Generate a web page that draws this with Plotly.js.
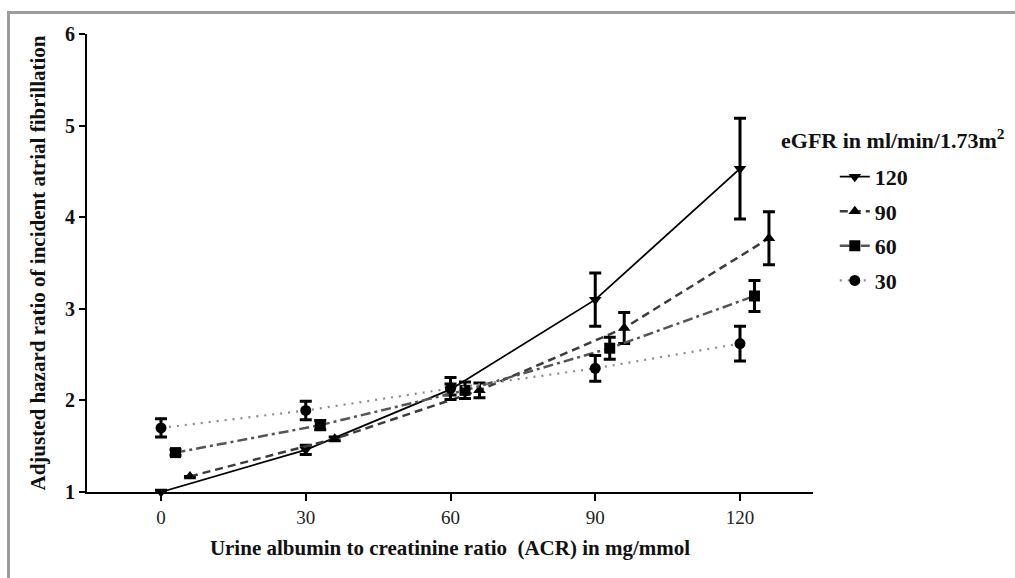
<!DOCTYPE html>
<html>
<head>
<meta charset="utf-8">
<script src="https://cdn.plot.ly/plotly-3.0.1.min.js"></script>
<style>
  html, body { margin: 0; padding: 0; background: #fff; }
  #wrap { position: relative; width: 1015px; height: 578px; overflow: hidden; }
  #chart { width: 1015px; height: 578px; }
  #frame { position: absolute; left: 7px; top: 11px; right: -10px; bottom: -10px;
           border-top: 3px solid #9c9c9c; border-left: 3px solid #9c9c9c; pointer-events: none; }
</style>
</head>
<body>
<div id="wrap">
  <div id="chart"></div>
  <div id="frame"></div>
</div>
<script>
// Data
const seriesNames = ["120", "90", "60", "30"];
const x120 = [0, 30, 60, 90, 120];
const y120 = [1.00, 1.46, 2.12, 3.10, 4.53];
const e120 = [0.02, 0.05, 0.06, 0.29, 0.55];

const x90 = [6, 36, 66, 96, 126];
const y90 = [1.17, 1.58, 2.11, 2.79, 3.77];
const e90 = [0.00, 0.02, 0.08, 0.17, 0.29];

const x60 = [3, 33, 63, 93, 123];
const y60 = [1.43, 1.73, 2.11, 2.57, 3.14];
const e60 = [0.03, 0.05, 0.09, 0.12, 0.17];

const x30 = [0, 30, 60, 90, 120];
const y30 = [1.70, 1.89, 2.13, 2.35, 2.62];
const e30 = [0.10, 0.10, 0.12, 0.14, 0.19];

const xTicks = [0, 30, 60, 90, 120];
const yTicks = [1, 2, 3, 4, 5, 6];

const FONT = "Liberation Serif, serif";

function tr(name, x, y, e, sym, msize, color, dash, lw) {
  return {
    type: "scatter", mode: "lines+markers", name: "<b>" + name + "</b>", legendgroup: name,
    x: x, y: y,
    line: { color: color, dash: dash, width: lw },
    marker: { symbol: sym, size: msize, color: "#000" },
    error_y: { type: "data", array: e, visible: true, color: "#000", thickness: 3, width: 6 },
    cliponaxis: false
  };
}

const data = [
  tr(seriesNames[0], x120, y120, e120, "triangle-down", 11, "#000", "solid", 1.8),
  tr(seriesNames[1], x90, y90, e90, "triangle-up", 11, "#3c3c3c", "8px,5px", 2.5),
  tr(seriesNames[2], x60, y60, e60, "square", 11, "#555", "10px,4px,3px,4px", 2.5),
  tr(seriesNames[3], x30, y30, e30, "circle", 11, "#8a8a8a", "2px,6px", 2.2)
];

const layout = {
  width: 1015, height: 578,
  margin: { l: 87, r: 202, t: 34, b: 86 },
  paper_bgcolor: "#fff", plot_bgcolor: "#fff",
  showlegend: true,
  font: { family: FONT, color: "#111" },
  xaxis: {
    range: [-15.34, 135.13], tickvals: xTicks, ticktext: xTicks.map(String),
    showgrid: false, zeroline: false, showline: true, linecolor: "#000", linewidth: 2,
    ticks: "outside", ticklen: 7, tickwidth: 2, tickcolor: "#000",
    tickfont: { family: FONT, size: 19, color: "#222" },
    title: { text: "<b>Urine albumin to creatinine ratio  (ACR) in mg/mmol</b>",
             font: { family: FONT, size: 21, color: "#111" }, standoff: 14 }
  },
  yaxis: {
    range: [1, 6], tickvals: yTicks, ticktext: yTicks.map(v => "<b>" + v + "</b>"),
    showgrid: false, zeroline: false, showline: true, linecolor: "#000", linewidth: 2,
    ticks: "outside", ticklen: 6, tickwidth: 2, tickcolor: "#000",
    tickfont: { family: FONT, size: 20, color: "#111" },
    title: { text: "<b>Adjusted hazard ratio of incident atrial fibrillation</b>",
             font: { family: FONT, size: 21, color: "#111" }, standoff: 14 }
  },
  legend: {
    x: 1.03, y: 0.734, xanchor: "left", yanchor: "top",
    font: { family: FONT, size: 22, color: "#111" },
    tracegroupgap: 3, itemwidth: 30, bgcolor: "rgba(0,0,0,0)"
  },
  annotations: [{
    xref: "paper", yref: "paper", x: 0.953, y: 0.735, xanchor: "left", yanchor: "bottom",
    text: "<b>eGFR in ml/min/1.73m<sup>2</sup></b>", showarrow: false,
    font: { family: FONT, size: 22, color: "#111" }
  }]
};

Plotly.newPlot("chart", data, layout, { displayModeBar: false, staticPlot: true });
</script>
</body>
</html>
